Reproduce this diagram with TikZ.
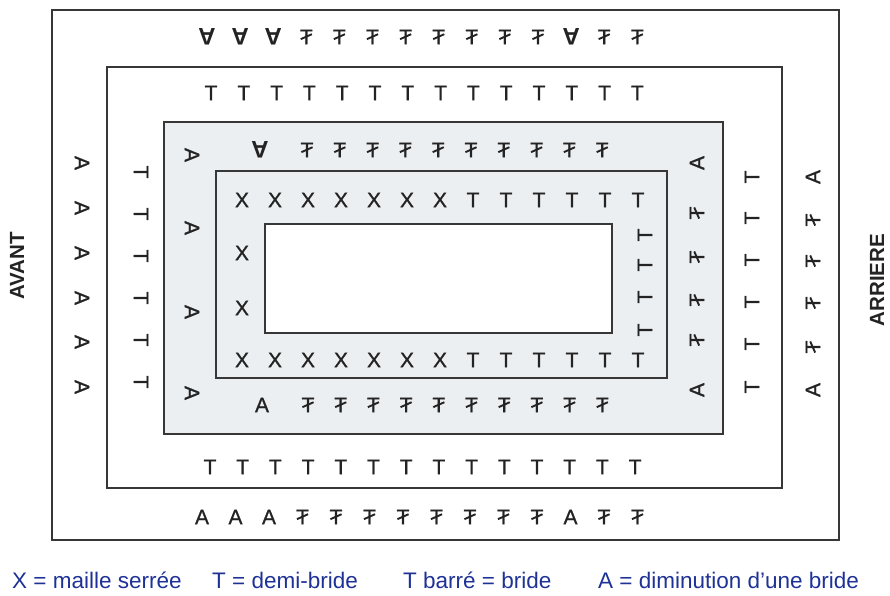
\documentclass[tikz,border=0pt]{standalone}
\usepackage{fontspec}
\usepackage{graphicx}
\setmainfont{Liberation Sans}
\newfontfamily\maillefont[FakeBold=0.8]{Liberation Sans}
\usetikzlibrary{positioning}
\definecolor{trait}{RGB}{55,55,55}
\definecolor{encre}{RGB}{35,35,35}
\definecolor{grisclair}{RGB}{236,239,242}
\definecolor{bleuleg}{RGB}{30,50,150}
% T barre (bride)
\newcommand{\tbarre}{\ooalign{T\cr\hidewidth\raisebox{0.2em}{\rotatebox{24}{\rule{0.58em}{0.09em}}}\hidewidth\cr}}

\begin{document}
\begin{tikzpicture}[x=1pt, y=-1pt,
    cadre/.style={draw=trait, line width=1.8pt},
    maille/.style={inner sep=0pt, text=encre, font=\maillefont\fontsize{21}{21}\selectfont},
    dimi/.style={maille, font=\fontsize{24}{24}\selectfont\bfseries},
    cote/.style={rotate=90, inner sep=0pt, text=encre,
                 font=\fontsize{20.5}{20.5}\selectfont\bfseries},
    legende/.style={inner sep=0pt, anchor=west, text=bleuleg,
                    font=\fontsize{22.5}{22.5}\selectfont}]
  \useasboundingbox (0,0) rectangle (890,596);
  % cadres
  \draw[cadre] (52,10) rectangle (839,540);
  \draw[cadre] (107,67) rectangle (782,488);
  \draw[cadre, fill=grisclair] (164,122) rectangle (723,434);
  \draw[cadre] (216,171) rectangle (667,378);
  \draw[cadre, fill=white] (265,224) rectangle (612,333);

  % rang exterieur
  \foreach \i in {1,2,3,12}
    \node[dimi, rotate=180] (eh\i) at ({207+33.1*(\i-1)},37) {A};
  \foreach \i in {4,...,11,13,14}
    \node[maille] (eh\i) at ({207+33.1*(\i-1)},37) {\tbarre};
  \foreach \i in {1,2,3,12}
    \node[maille] (eb\i) at ({202+33.5*(\i-1)},517) {A};
  \foreach \i in {4,...,11,13,14}
    \node[maille] (eb\i) at ({202+33.5*(\i-1)},517) {\tbarre};
  \foreach \y [count=\i] in {163,208,253,298,342,387}
    \node[maille, rotate=-90] (eg\i) at (82,\y) {A};
  \foreach \y/\s [count=\i] in {177/A,220/\tbarre,261/\tbarre,303/\tbarre,347/\tbarre,390/A}
    \node[maille, rotate=90] (ed\i) at (813,\y) {\s};

  % rang des demi-brides
  \foreach \i in {1,...,14} {
    \node[maille] (dh\i) at ({211+32.8*(\i-1)},93) {T};
    \node[maille] (db\i) at ({210+32.7*(\i-1)},467) {T};
  }
  \foreach \y [count=\i] in {172,214,256,298,340,382}
    \node[maille, rotate=-90] (dg\i) at (141,\y) {T};
  \foreach \y [count=\i] in {177,218,260,302,344,387}
    \node[maille, rotate=90] (dd\i) at (752,\y) {T};

  % rang grise
  \node[dimi, rotate=180] (gh0) at (260,150) {A};
  \foreach \i in {1,...,10}
    \node[maille] (gh\i) at ({307+32.8*(\i-1)},150) {\tbarre};
  \node[maille] (gb0) at (262,405) {A};
  \foreach \i in {1,...,10}
    \node[maille] (gb\i) at ({308+32.7*(\i-1)},405) {\tbarre};
  \foreach \y [count=\i] in {155,228,312,393}
    \node[maille, rotate=-90] (gg\i) at (192,\y) {A};
  \foreach \y/\s [count=\i] in {163/A,213/\tbarre,257/\tbarre,300/\tbarre,340/\tbarre,390/A}
    \node[maille, rotate=90] (gd\i) at (697,\y) {\s};

  % rang central
  \foreach \i in {1,...,7} {
    \node[maille] (ih\i) at ({242+33*(\i-1)},200) {X};
    \node[maille] (ib\i) at ({242+33*(\i-1)},360) {X};
  }
  \foreach \i in {8,...,13} {
    \node[maille] (ih\i) at ({242+33*(\i-1)},200) {T};
    \node[maille] (ib\i) at ({242+33*(\i-1)},360) {T};
  }
  \node[maille] (ig1) at (242,253) {X};
  \node[maille] (ig2) at (242,308) {X};
  \foreach \y [count=\i] in {235,265,297,330}
    \node[maille, rotate=90] (id\i) at (645,\y) {T};

  \node[cote] (avant) at (17,266) {AVANT};
  \node[cote] (arriere) at (877,280) {ARRIERE};

  % legende
  \node[legende] (lx) at (12,580) {X = maille serrée};
  \node[legende] (lt) at (212,580) {T = demi-bride};
  \node[legende] (ltb) at (403,580) {T barré = bride};
  \node[legende] (la) at (598,580) {A = diminution d’une bride};
\end{tikzpicture}
\end{document}
